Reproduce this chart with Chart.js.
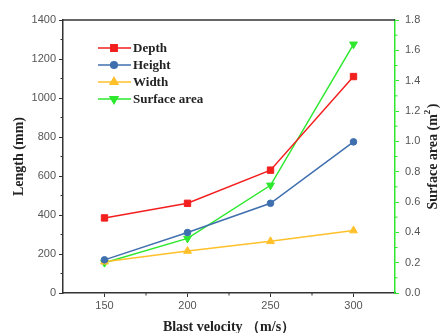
<!DOCTYPE html>
<html>
<head>
<meta charset="utf-8">
<script src="https://cdn.jsdelivr.net/npm/chart.js@4.4.1/dist/chart.umd.min.js"></script>
<style>
  html, body { margin: 0; padding: 0; background: #fff; }
  #wrap { width: 440px; height: 333px; position: relative; }
</style>
</head>
<body>
<div id="wrap"><canvas id="chart"></canvas></div>
<script>
// values
var velocity = [150, 200, 250, 300];
var depth = [385, 460, 630, 1110];
var height = [170, 310, 460, 775];
var width = [160, 215, 265, 320];
var surfaceArea = [0.2, 0.36, 0.71, 1.64];

var xTicks = [150, 200, 250, 300];
var xMinor = [175, 225, 275];

var serif = '"Liberation Serif", "Times New Roman", serif';
var sans = '"Liberation Sans", Arial, sans-serif';
var axisColor = '#333';
var green = '#2ee82e';

function pts(vals) {
    return vals.map((v, i) => ({ x: velocity[i], y: v }));
}

var series = [
    { label: 'Depth', data: depth, color: '#f21f1f', style: 'rect', r: 4.5, rot: 0, axis: 'y' },
    { label: 'Height', data: height, color: '#3f6fae', style: 'circle', r: 3.3, rot: 0, axis: 'y' },
    { label: 'Width', data: width, color: '#ffc02a', style: 'triangle', r: 4.5, rot: 0, axis: 'y' },
    { label: 'Surface area', data: surfaceArea, color: green, style: 'triangle', r: 4.5, rot: 180, axis: 'y2' }
];

// legend with line + marker, right title, minor ticks and top frame
var decorPlugin = {
    id: 'decor',
    afterDraw(chart) {
        var ctx = chart.ctx;
        var area = chart.chartArea;
        var sx = chart.scales.x, sy = chart.scales.y, sy2 = chart.scales.y2;
        ctx.save();
        // top frame
        ctx.strokeStyle = axisColor;
        ctx.lineWidth = 1.5;
        ctx.beginPath();
        ctx.moveTo(area.left, area.top);
        ctx.lineTo(area.right, area.top);
        ctx.stroke();

        // minor ticks
        ctx.lineWidth = 1;
        ctx.beginPath();
        for (var v = 100; v < 1400; v += 200) {
            var p = sy.getPixelForValue(v);
            ctx.moveTo(area.left, p); ctx.lineTo(area.left - 2.5, p);
        }
        xMinor.forEach(v => {
            var p = sx.getPixelForValue(v);
            ctx.moveTo(p, area.bottom); ctx.lineTo(p, area.bottom + 2.5);
        });
        ctx.stroke();
        ctx.strokeStyle = green;
        ctx.beginPath();
        for (var k = 1; k < 18; k += 2) {
            var p2 = sy2.getPixelForValue(k / 10);
            ctx.moveTo(area.right, p2); ctx.lineTo(area.right + 2.5, p2);
        }
        ctx.stroke();

        // right axis title, reading bottom to top
        ctx.save();
        ctx.translate(433, (area.top + area.bottom) / 2);
        ctx.rotate(-Math.PI / 2);
        ctx.fillStyle = '#222';
        ctx.textBaseline = 'middle';
        ctx.font = 'bold 14px ' + serif;
        var main = 'Surface area (m';
        var supW = 6;
        var total = ctx.measureText(main).width + supW + ctx.measureText(')').width;
        var x0 = -total / 2;
        ctx.textAlign = 'left';
        ctx.fillText(main, x0, 0);
        x0 += ctx.measureText(main).width;
        ctx.font = 'bold 9px ' + serif;
        ctx.fillText('2', x0, -5);
        x0 += supW;
        ctx.font = 'bold 14px ' + serif;
        ctx.fillText(')', x0, 0);
        ctx.restore();

        // legend
        var lx = 98, ly = 48;
        series.forEach((s, i) => {
            var y = ly + i * 17;
            ctx.strokeStyle = s.color;
            ctx.lineWidth = 1.5;
            ctx.beginPath();
            ctx.moveTo(lx, y); ctx.lineTo(lx + 33, y);
            ctx.stroke();
            ctx.fillStyle = s.color;
            Chart.helpers.drawPoint(ctx, { pointStyle: s.style, radius: s.r, rotation: s.rot, borderWidth: 1 }, lx + 16, y);
            ctx.fillStyle = '#222';
            ctx.font = 'bold 13px ' + serif;
            ctx.textBaseline = 'middle';
            ctx.textAlign = 'left';
            ctx.fillText(s.label, lx + 35, y + 1);
        });
        ctx.restore();
    }
};

var datasets = series.map(s => ({
    label: s.label,
    data: pts(s.data),
    yAxisID: s.axis,
    borderColor: s.color,
    backgroundColor: s.color,
    borderWidth: 1.5,
    pointStyle: s.style,
    pointRotation: s.rot,
    pointRadius: s.r,
    pointBorderWidth: 1,
    tension: 0
}));

new Chart(document.getElementById('chart'), {
    type: 'line',
    data: { datasets: datasets },
    options: {
        responsive: true,
        maintainAspectRatio: false,
        animation: false,
        layout: { padding: { top: 20, left: 0, right: 0, bottom: 0 } },
        plugins: { legend: { display: false }, tooltip: { enabled: false } },
        scales: {
            x: {
                type: 'linear',
                min: 125, max: 325,
                afterBuildTicks: axis => { axis.ticks = xTicks.map(v => ({ value: v })); },
                afterFit: scale => { scale.height = 40; },
                grid: { drawOnChartArea: false, tickLength: 4, color: axisColor },
                border: { color: axisColor, width: 1.5 },
                ticks: { color: '#555', font: { family: sans, size: 11 }, padding: 2, maxRotation: 0,
                    callback: v => String(v) },
                title: { display: true, text: 'Blast velocity （m/s）', color: '#222',
                    font: { family: serif, size: 14, weight: 'bold' }, padding: { top: 0, bottom: -3 } }
            },
            y: {
                position: 'left',
                min: 0, max: 1400,
                ticks: { stepSize: 200, color: '#555', font: { family: sans, size: 11 }, padding: 3,
                    callback: v => String(v) },
                afterFit: scale => { scale.width = 63; },
                grid: { drawOnChartArea: false, tickLength: 4, color: axisColor },
                border: { color: axisColor, width: 1.5 },
                title: { display: true, text: 'Length (mm)', color: '#222',
                    font: { family: serif, size: 14, weight: 'bold' }, padding: { top: 11, bottom: 0 } }
            },
            y2: {
                position: 'right',
                min: 0, max: 1.8,
                ticks: { stepSize: 0.2, color: '#555', font: { family: sans, size: 11 }, padding: 6,
                    callback: v => v.toFixed(1) },
                afterFit: scale => { scale.width = 45; },
                grid: { drawOnChartArea: false, tickLength: 4, color: green },
                border: { color: green, width: 1.5 }
            }
        }
    },
    plugins: [decorPlugin]
});
</script>
</body>
</html>
